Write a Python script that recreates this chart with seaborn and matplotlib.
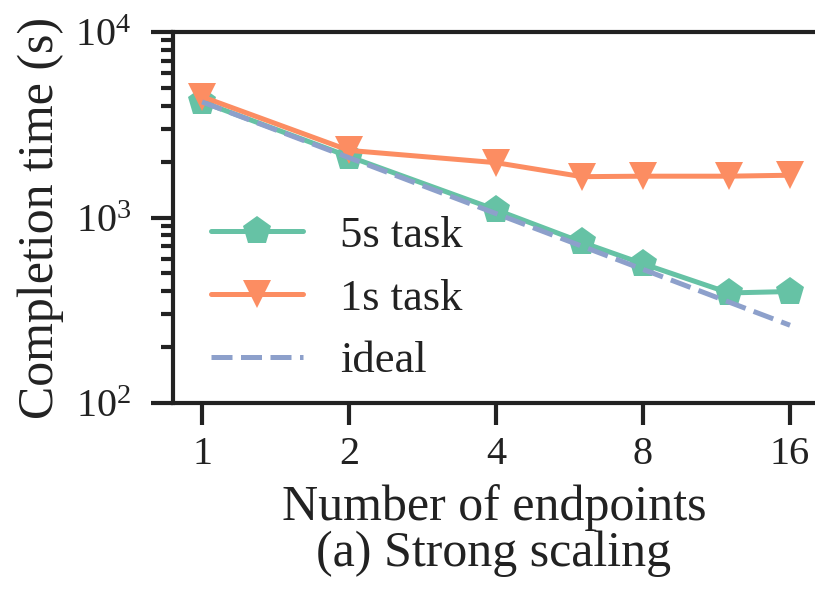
import matplotlib
matplotlib.use("Agg")
import matplotlib.pyplot as plt
import matplotlib.ticker as mticker
import seaborn as sns
import pandas as pd

endpoints = [1, 2, 4, 6, 8, 12, 16]
task5s = [4200, 2130, 1100, 735, 563, 392, 399]
task1s = [4480, 2300, 1975, 1660, 1670, 1670, 1690]
ideal = [4200, 2100, 1050, 700, 525, 350, 262.5]
xticks = [1, 2, 4, 8, 16]
series_names = ["5s task", "1s task", "ideal"]

sns.set_theme(style="ticks", palette="Set2")
plt.rcParams["font.family"] = ["Liberation Serif", "DejaVu Serif"]
plt.rcParams["mathtext.fontset"] = "stix"

pal = sns.color_palette("Set2")
df = pd.DataFrame({
    "x": endpoints * 3,
    "y": task5s + task1s + ideal,
    "series": [series_names[0]] * 7 + [series_names[1]] * 7 + [series_names[2]] * 7,
})

fig = plt.figure(figsize=(8.15, 5.91), dpi=100)
ax = fig.add_axes([173 / 815, 1 - 403 / 591, 1 - 173 / 815, (403 - 32) / 591])

sns.lineplot(data=df[df.series == "5s task"], x="x", y="y", ax=ax, color=pal[0],
             marker="p", markersize=21, markeredgewidth=0, linewidth=3.6, label="5s task")
sns.lineplot(data=df[df.series == "1s task"], x="x", y="y", ax=ax, color=pal[1],
             marker="v", markersize=20, markeredgewidth=0, linewidth=3.6, label="1s task")
sns.lineplot(data=df[df.series == "ideal"], x="x", y="y", ax=ax, color=pal[2],
             linestyle=(0, (4.2, 1.7)), linewidth=3.6, label="ideal")

ax.set_xscale("log", base=2)
ax.set_yscale("log")
ax.set_xlim(0.872, 18.0)
ax.set_ylim(100, 10000)
ax.xaxis.set_major_locator(mticker.FixedLocator(xticks))
ax.xaxis.set_major_formatter(mticker.FixedFormatter([str(t) for t in xticks]))
ax.xaxis.set_minor_locator(mticker.NullLocator())
ax.yaxis.set_major_locator(mticker.LogLocator(base=10, numticks=10))
ax.yaxis.set_major_formatter(mticker.LogFormatterMathtext())

for side in ["left", "top", "bottom"]:
    ax.spines[side].set_linewidth(3)
    ax.spines[side].set_color("#222222")
ax.spines["right"].set_visible(False)
ax.tick_params(axis="both", which="major", length=16, width=3, color="#222222",
               labelsize=29, labelcolor="#222222")
ax.tick_params(axis="x", which="major", pad=8)
ax.tick_params(axis="y", which="major", pad=14)
ax.tick_params(axis="y", which="minor", length=9, width=3, color="#222222")

ax.set_xlabel("Number of endpoints\n(a) Strong scaling", fontsize=36, color="#222222",
              linespacing=0.98, labelpad=8)
ax.set_ylabel("Completion time (s)", fontsize=36, color="#222222", labelpad=8)

leg = ax.legend(loc="lower left", bbox_to_anchor=((211 - 173) / 642, 0.058), frameon=False,
                fontsize=32, handlelength=2.07, handletextpad=0.83, labelspacing=0.51,
                borderaxespad=0, borderpad=0)
for t in leg.get_texts():
    t.set_color("#222222")

fig.savefig("out.png", dpi=100)
